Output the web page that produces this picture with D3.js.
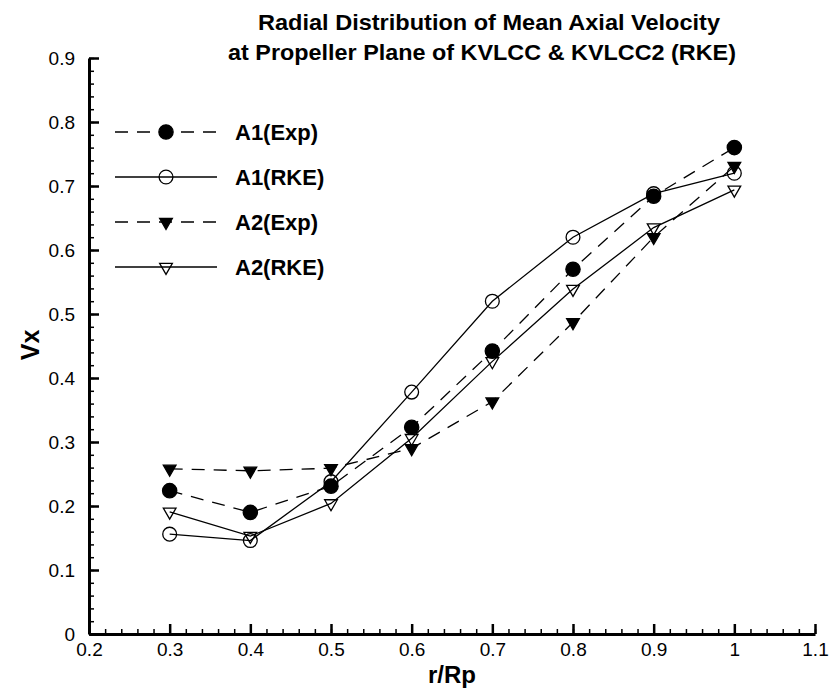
<!DOCTYPE html>
<html>
<head>
<meta charset="utf-8">
<style>
  body { margin: 0; background: #fff; }
  text { font-family: "Liberation Sans", Arial, Helvetica, sans-serif; }
</style>
</head>
<body>
<svg id="chart" width="829" height="691"></svg>
<script src="https://d3js.org/d3.v7.min.js"></script>
<script>

// radial positions
var rr = [0.3, 0.4, 0.5, 0.6, 0.7, 0.8, 0.9, 1.0];

// Vx values
var a1Exp = [0.224, 0.190, 0.231, 0.323, 0.442, 0.570, 0.684, 0.760];
var a1Rke = [0.156, 0.146, 0.238, 0.378, 0.520, 0.620, 0.688, 0.720];
var a2Exp = [0.258, 0.255, 0.259, 0.290, 0.363, 0.487, 0.620, 0.731];
var a2Rke = [0.191, 0.153, 0.204, 0.306, 0.426, 0.539, 0.635, 0.694];

var seriesNames = ["A1(Exp)", "A1(RKE)", "A2(Exp)", "A2(RKE)"];

var xTicks = [0.2, 0.3, 0.4, 0.5, 0.6, 0.7, 0.8, 0.9, 1.0, 1.1];
var xTickLabels = ["0.2", "0.3", "0.4", "0.5", "0.6", "0.7", "0.8", "0.9", "1", "1.1"];
var yTicks = [0, 0.1, 0.2, 0.3, 0.4, 0.5, 0.6, 0.7, 0.8, 0.9];
var yTickLabels = ["0", "0.1", "0.2", "0.3", "0.4", "0.5", "0.6", "0.7", "0.8", "0.9"];

var svg = d3.select("#chart");

var x = d3.scaleLinear().domain([0.2, 1.1]).range([89, 815]);
var y = d3.scaleLinear().domain([0, 0.9]).range([634, 58]);

// series styling
var series = [
  {name: seriesNames[0], vals: a1Exp, dash: "13,9", sym: d3.symbolCircle, size: 160, fill: "#000", rot: 0},
  {name: seriesNames[1], vals: a1Rke, dash: null, sym: d3.symbolCircle, size: 150, fill: "none", rot: 0},
  {name: seriesNames[2], vals: a2Exp, dash: "13,9", sym: d3.symbolTriangle, size: 70, fill: "#000", rot: 180},
  {name: seriesNames[3], vals: a2Rke, dash: null, sym: d3.symbolTriangle, size: 70, fill: "none", rot: 180}
];

// title
svg.append("text")
    .attr("x", 489).attr("y", 30)
    .attr("text-anchor", "middle")
    .attr("font-size", 22).attr("font-weight", "bold")
    .attr("textLength", 462).attr("lengthAdjust", "spacingAndGlyphs")
    .text("Radial Distribution of  Mean Axial Velocity");
svg.append("text")
    .attr("x", 482).attr("y", 60)
    .attr("text-anchor", "middle")
    .attr("font-size", 22).attr("font-weight", "bold")
    .attr("textLength", 508).attr("lengthAdjust", "spacingAndGlyphs")
    .text("at Propeller Plane of KVLCC & KVLCC2 (RKE)");

// minor ticks
var minorX = d3.range(0.2, 1.1001, 0.02);
var minorY = d3.range(0, 0.9001, 0.02);

svg.append("g")
    .attr("transform", "translate(0," + y(0) + ")")
    .call(d3.axisBottom(x).tickValues(minorX).tickSize(-5).tickFormat(""))
    .call(function(g) { g.select(".domain").remove(); g.selectAll("line").attr("stroke-width", 1.5); });

svg.append("g")
    .attr("transform", "translate(" + x(0.2) + ",0)")
    .call(d3.axisLeft(y).tickValues(minorY).tickSize(-5).tickFormat(""))
    .call(function(g) { g.select(".domain").remove(); g.selectAll("line").attr("stroke-width", 1.5); });

// major ticks + labels
var xAxis = svg.append("g")
    .attr("transform", "translate(0," + y(0) + ")")
    .call(d3.axisBottom(x).tickValues(xTicks).tickSizeInner(-10).tickSizeOuter(0).tickPadding(9)
      .tickFormat(function(d, i) { return xTickLabels[i]; }));
xAxis.selectAll("line").attr("stroke-width", 2.5);
xAxis.select(".domain").attr("stroke-width", 3);
xAxis.selectAll("text").attr("font-size", 19).attr("fill", "#000")
    .style("font-family", "'Liberation Sans', Arial, sans-serif");

var yAxis = svg.append("g")
    .attr("transform", "translate(" + x(0.2) + ",0)")
    .call(d3.axisLeft(y).tickValues(yTicks).tickSizeInner(-10).tickSizeOuter(0).tickPadding(14)
      .tickFormat(function(d, i) { return yTickLabels[i]; }));
yAxis.selectAll("line").attr("stroke-width", 2.5);
yAxis.select(".domain").attr("stroke-width", 3);
yAxis.selectAll("text").attr("font-size", 19).attr("fill", "#000")
    .style("font-family", "'Liberation Sans', Arial, sans-serif");

// axis titles
svg.append("text")
    .attr("x", 452).attr("y", 683)
    .attr("text-anchor", "middle")
    .attr("font-size", 24).attr("font-weight", "bold")
    .text("r/Rp");
svg.append("text")
    .attr("transform", "translate(39,345) rotate(-90)")
    .attr("text-anchor", "middle")
    .attr("font-size", 25).attr("font-weight", "bold")
    .text("Vx");

// lines
var line = d3.line()
    .x(function(d, i) { return x(rr[i]); })
    .y(function(d) { return y(d); });

series.forEach(function(s) {
  svg.append("path")
      .datum(s.vals)
      .attr("fill", "none")
      .attr("stroke", "#000")
      .attr("stroke-width", 1.3)
      .attr("stroke-dasharray", s.dash)
      .attr("d", line);
});

// markers
series.forEach(function(s) {
  svg.append("g").selectAll("path")
      .data(s.vals)
      .join("path")
      .attr("transform", function(d, i) {
        return "translate(" + x(rr[i]) + "," + y(d) + ") rotate(" + s.rot + ")";
      })
      .attr("d", d3.symbol().type(s.sym).size(s.size))
      .attr("fill", s.fill)
      .attr("stroke", "#000")
      .attr("stroke-width", 1.3);
});

// legend
var legRowY = [132, 177, 222, 267];
var leg = svg.append("g");
series.forEach(function(s, i) {
  var ly = legRowY[i];
  leg.append("line")
      .attr("x1", 115).attr("x2", 217)
      .attr("y1", ly).attr("y2", ly)
      .attr("stroke", "#000").attr("stroke-width", 1.3)
      .attr("stroke-dasharray", s.dash);
  leg.append("path")
      .attr("transform", "translate(166," + ly + ") rotate(" + s.rot + ")")
      .attr("d", d3.symbol().type(s.sym).size(s.size))
      .attr("fill", s.fill)
      .attr("stroke", "#000")
      .attr("stroke-width", 1.3);
  leg.append("text")
      .attr("x", 235).attr("y", ly + 8)
      .attr("font-size", 22).attr("font-weight", "bold")
      .text(s.name);
});

</script>
</body>
</html>
